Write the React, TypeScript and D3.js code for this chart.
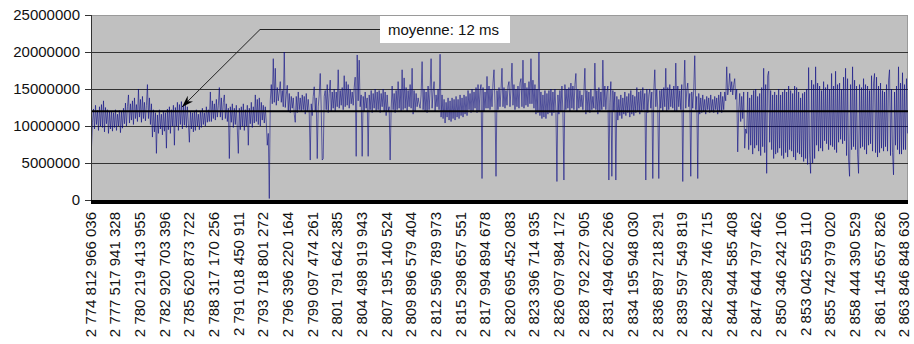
import React from "react";
import * as d3 from "d3";

// Timings (millions of units), left to right, roughly one per pixel
const seg1 = [
  7.2,10.5,12.3,9.6,12.8,10.2,12.1,9.4,12.6,10.0,
  12.9,9.8,13.4,9.2,12.5,10.3,12.2,9.0,11.9,9.6,
  12.0,9.3,11.8,9.8,12.2,9.4,11.6,10.0,12.1,9.1,
  11.9,9.7,12.4,10.3,13.1,10.0,12.6,14.2,10.4,13.0,
  10.8,13.4,10.2,13.8,11.0,12.9,10.6,15.0,11.2,13.6,
  10.5,14.0,11.0,13.2,10.7,12.8,15.6,11.0,13.8,10.2,
  13.0,8.5,12.2,9.2,11.8,6.3,11.5,9.0,12.2,9.6,
  11.6,8.8,12.0,9.3,11.8,7.0,12.3,9.5,12.6,9.0,
  12.2,10.0,12.8,7.4,12.5,10.0,13.2,9.4,12.9,10.2,
  13.3,9.6,12.8,10.1,13.0,9.8,12.6,10.3,7.8,12.0,
  9.6,11.8,9.2,12.0,9.4,12.2,10.0,11.6,9.5,12.0,
  9.8,12.4,10.2,11.8,10.0,12.6,10.5,12.2,10.6,14.6,
  10.6,13.4,11.0,13.0,10.8,13.6,11.2,12.8,15.2,11.2,
  13.8,10.8,13.2,14.2,11.0,13.0,10.6,12.4,5.6,12.6,
  10.5,13.0,9.8,12.4,10.2,12.8,9.6,6.3,12.4,9.5,
  12.6,10.0,13.0,9.4,12.2,10.0,12.8,7.4,12.4,10.3,
  13.2,9.8,12.6,10.4,
];
const seg2 = [
  14.2,10.6,13.6,10.2,13.8,10.0,13.2,10.8,12.8,10.4,
  12.6,10.5,7.4,9.0,0.2,13.4,15.6,13.0,19.1,13.2,
  17.8,12.8,15.2,13.4,14.6,16.0,13.2,14.8,12.6,20.0,
  12.5,14.2,15.5,12.0,14.4,11.8,14.0,12.4,13.8,11.6,
  10.5,14.0,11.8,14.6,12.2,13.8,11.9,14.2,12.2,14.0,
  11.6,14.4,12.0,13.6,11.8,5.4,13.0,11.4,14.0,15.3,
  12.0,13.8,5.6,12.6,14.2,17.1,12.4,5.4,5.6,14.0,
  14.8,12.2,15.6,11.8,14.4,16.2,12.0,14.6,12.4,15.0,
  12.0,14.6,12.6,17.6,12.4,14.8,12.8,15.2,12.2,16.8,
  12.6,16.0,12.8,15.6,12.4,15.0,13.0,14.6,12.8,15.2,
  16.6,5.9,19.6,13.4,18.9,12.6,14.2,5.9,14.0,12.0,
  14.6,12.4,13.8,5.9,14.2,12.2,14.8,11.8,14.4,12.4,
  15.0,12.0,14.6,12.2,14.8,11.8,14.4,12.6,15.0,12.0,
  14.6,11.4,14.2,12.0,12.6,5.4,12.2,15.4,12.2,14.4,
  11.8,14.8,12.2,16.0,12.4,15.0,12.0,17.6,12.2,16.5,
  12.4,15.2,12.0,14.8,12.6,15.6,12.4,17.8,11.6,14.8,
  12.0,14.4,12.6,13.8,
];
const seg3 = [
  13.0,12.4,14.2,18.7,12.2,15.0,12.0,14.6,11.8,15.4,
  12.2,14.8,19.1,12.4,14.6,16.0,12.0,14.2,12.6,15.0,
  12.2,19.7,11.2,14.2,11.0,13.6,10.4,13.2,11.2,13.8,
  10.8,13.4,10.6,13.8,11.0,13.6,10.8,14.0,11.2,13.6,
  11.0,14.2,11.4,13.8,11.2,14.2,11.6,14.0,11.4,14.8,
  12.2,14.4,11.8,15.0,12.0,14.6,12.4,15.2,11.8,15.6,
  12.0,14.8,15.6,2.9,15.2,12.0,14.6,12.4,16.7,12.4,
  15.4,12.2,15.0,12.6,15.8,17.6,13.0,3.2,14.8,12.2,
  15.2,12.6,14.8,17.8,12.6,15.2,12.4,14.8,12.8,15.4,
  16.0,12.6,15.0,18.5,12.8,15.6,12.2,15.0,12.6,15.4,
  12.4,15.8,16.4,12.6,18.9,12.4,15.8,12.8,15.2,12.6,
  16.0,13.0,19.1,13.0,16.2,12.4,15.6,11.6,15.0,11.8,
  20.0,11.4,14.6,11.0,14.2,11.2,14.8,11.0,14.4,11.6,
  14.8,11.8,15.0,11.4,14.6,11.8,15.0,12.0,2.5,14.2,
  11.6,14.8,12.0,15.4,11.8,2.7,15.6,12.2,15.0,12.4,
  15.2,12.0,15.8,12.4,15.4,12.2,15.6,17.1,12.0,15.0,
  12.4,14.8,12.6,14.2,
];
const seg4 = [
  12.2,14.6,17.8,11.6,14.8,12.0,14.6,11.8,15.0,12.2,
  14.0,12.4,18.5,12.2,14.8,11.6,15.2,12.0,14.6,12.2,
  18.9,12.6,15.4,12.2,14.6,15.4,2.7,13.2,16.0,3.2,
  14.8,12.0,14.6,2.7,14.0,10.8,13.6,11.4,14.2,11.0,
  13.8,11.6,14.6,11.4,14.0,11.8,14.4,11.2,14.8,11.6,
  14.2,11.4,14.0,11.8,15.2,12.0,14.6,11.6,14.8,12.0,
  15.2,12.2,14.4,2.7,15.0,11.8,14.2,15.0,12.4,14.6,
  2.9,14.8,17.6,12.6,15.0,12.2,2.9,14.8,12.4,15.0,
  12.0,15.2,12.6,17.8,12.0,15.2,12.2,15.6,12.6,15.0,
  12.4,15.4,12.0,18.5,12.0,15.4,12.6,14.8,12.2,15.6,
  2.5,14.6,18.9,12.4,14.8,15.8,12.6,14.4,3.2,14.6,
  12.4,15.0,19.5,12.2,14.0,2.9,14.4,11.6,13.8,11.8,
  14.2,12.0,13.6,11.6,14.0,12.2,13.8,11.8,14.2,12.0,
  13.6,11.8,14.0,12.2,13.8,11.6,14.2,12.0,14.6,11.8,
  14.0,12.2,14.6,13.4,18.0,14.2,15.2,17.1,14.6,16.0,
  14.2,15.6,16.4,13.6,15.0,6.5,12.0,14.4,10.6,14.0,
  11.0,14.6,7.0,9.6,
];
const seg5 = [
  9.0,14.6,6.8,13.8,7.4,14.2,6.2,14.8,7.0,15.0,
  7.4,14.0,6.6,14.4,6.0,15.2,7.2,17.8,6.4,15.6,
  3.6,16.8,17.4,7.8,14.8,6.8,14.2,5.6,14.6,6.2,
  14.2,6.4,15.0,7.0,14.2,6.0,14.6,5.6,15.0,6.4,
  14.6,5.8,15.4,6.8,14.8,6.6,14.4,5.8,15.4,5.4,
  15.2,6.4,14.6,6.2,13.8,5.8,14.4,5.2,14.6,5.6,
  15.0,4.8,17.9,6.2,3.6,16.2,5.0,15.6,5.6,18.0,
  7.4,15.8,6.6,15.4,7.0,14.8,6.6,16.0,8.0,15.2,
  7.6,15.6,6.8,15.0,7.4,17.1,7.2,15.4,6.8,17.4,
  6.4,15.6,7.8,15.8,8.2,15.0,7.6,16.6,8.0,17.8,
  6.0,16.4,5.4,3.2,15.6,6.8,18.0,7.2,16.2,6.8,
  15.4,6.2,3.6,15.6,7.0,15.2,7.2,16.4,6.8,15.6,
  6.2,15.4,7.4,14.8,7.6,16.8,6.6,15.8,17.1,6.4,
  16.6,5.8,15.4,6.4,15.8,7.0,14.8,6.6,14.6,7.2,
  15.6,6.6,16.2,17.6,6.0,15.0,6.4,3.4,14.6,7.4,
  15.4,6.8,18.0,6.2,15.8,6.2,17.2,6.8,15.6,6.8,
  16.4,9.0,
];

const yTicks = [0, 5000000, 10000000, 15000000, 20000000, 25000000];
const meanValue = 12000000;
const meanLabel = "moyenne: 12 ms";

const xLabels = [
  "2 774 812 966 036","2 777 517 941 328","2 780 219 413 955","2 782 920 703 396",
  "2 785 620 873 722","2 788 317 170 256","2 791 018 450 911","2 793 718 801 272",
  "2 796 396 220 164","2 799 097 474 261","2 801 791 642 385","2 804 498 919 943",
  "2 807 195 140 524","2 809 896 579 404","2 812 596 789 973","2 815 298 657 551",
  "2 817 994 894 678","2 820 695 452 083","2 823 396 714 935","2 826 097 984 172",
  "2 828 792 227 905","2 831 494 602 266","2 834 195 948 030","2 836 897 218 291",
  "2 839 597 549 819","2 842 298 746 715","2 844 944 585 408","2 847 644 797 462",
  "2 850 346 242 106","2 853 042 559 110","2 855 742 979 020","2 858 444 390 529",
  "2 861 145 657 826","2 863 846 848 630",
];

const values = [...seg1, ...seg2, ...seg3, ...seg4, ...seg5].map((v) => v * 1e6);

export default function App() {
  const W = 914, H = 344;
  const left = 91, right = 908, top = 15, bottom = 200;
  const font = "'Liberation Sans', Arial, sans-serif";

  const y = d3.scaleLinear().domain([0, 25000000]).range([bottom, top]);
  const x = d3.scaleLinear().domain([0, values.length - 1]).range([left + 0.5, right - 0.5]);
  const xl = d3.scaleLinear().domain([0, xLabels.length - 1]).range([90.5, 904]);

  const line = d3.line<number>().x((_, i) => x(i)).y((d) => y(d));
  const path = line(values) || "";

  const ym = y(meanValue);
  const tipX = 182, tipY = 107;
  const boxX = 380, boxY = 16, boxW = 130, boxH = 27;
  const elbowX = 260, elbowY = boxY + boxH / 2;

  return (
    <svg width={W} height={H} style={{ position: "absolute", left: 0, top: 0, background: "#fff" }}>
      <defs>
        <marker id="arr" viewBox="0 0 12 8" refX="12" refY="4" markerWidth="12" markerHeight="8" orient="auto" markerUnits="userSpaceOnUse">
          <path d="M0,0 L12,4 L0,8 L4,4 Z" fill="#000" />
        </marker>
      </defs>
      <rect x={left} y={top} width={right - left} height={bottom - top} fill="#c0c0c0" />
      <line x1={left} x2={right} y1={top + 0.5} y2={top + 0.5} stroke="#9a9a9a" />
      <line x1={right - 0.5} x2={right - 0.5} y1={top} y2={bottom} stroke="#9a9a9a" />
      {yTicks.filter((t) => t > 0 && t < 25000000).map((t) => (
        <line key={t} x1={left} x2={right} y1={Math.round(y(t)) + 0.5} y2={Math.round(y(t)) + 0.5} stroke="#333" strokeWidth={1} />
      ))}
      <path d={path} fill="none" stroke="#000080" strokeWidth={0.55} strokeLinejoin="bevel" />
      <line x1={left} x2={right} y1={ym} y2={ym} stroke="#000" strokeWidth={2} />
      <line x1={left + 0.5} x2={left + 0.5} y1={top} y2={bottom} stroke="#333" />
      {yTicks.map((t) => (
        <g key={t}>
          <line x1={85} x2={left} y1={Math.round(y(t)) + 0.5} y2={Math.round(y(t)) + 0.5} stroke="#333" />
          <text x={80} y={y(t)} dy="0.35em" textAnchor="end" fontSize={15} fontFamily={font} fill="#111">{t}</text>
        </g>
      ))}
      <rect x={left} y={bottom} width={right - left} height={4} fill="#000" />
      {xLabels.map((l, i) => (
        <text key={l} transform={`translate(${xl(i)},212) rotate(-90)`} dy="0.35em" textAnchor="end" fontSize={15} fontFamily={font} fill="#111">{l}</text>
      ))}
      <polyline points={`${boxX},${elbowY} ${elbowX},${elbowY} ${tipX},${tipY}`} fill="none" stroke="#222" strokeWidth={1} markerEnd="url(#arr)" />
      <rect x={boxX} y={boxY} width={boxW} height={boxH} fill="#fff" />
      <text x={boxX + 8} y={boxY + boxH / 2} dy="0.35em" fontSize={15} fontFamily={font} fill="#111">{meanLabel}</text>
    </svg>
  );
}
